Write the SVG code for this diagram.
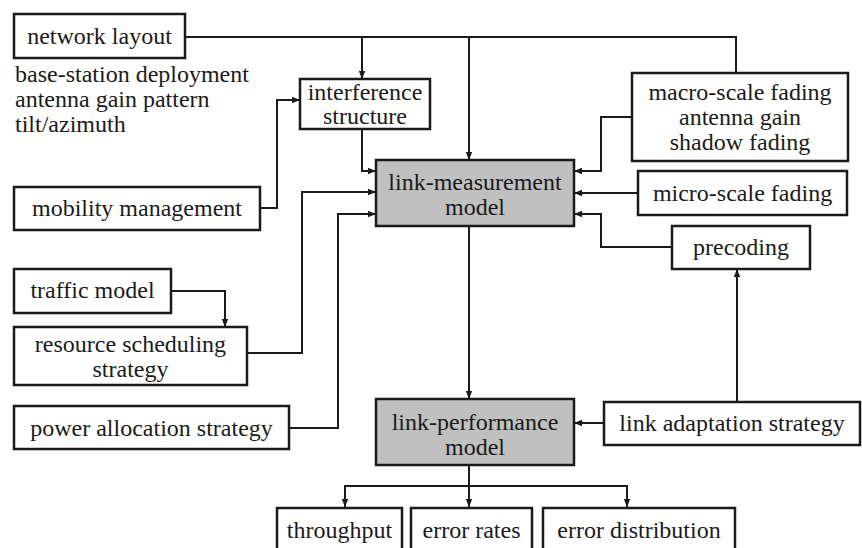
<svg xmlns="http://www.w3.org/2000/svg" width="862" height="548" viewBox="0 0 862 548">
<defs>
<marker id="arr" markerUnits="userSpaceOnUse" markerWidth="10" markerHeight="10" refX="8" refY="4" orient="auto">
<path d="M0,0.8 L8,4 L0,7.2 Z" fill="#1a1a1a"/>
</marker>
</defs>
<rect width="862" height="548" fill="#ffffff"/>
<g id="connectors" fill="none" stroke="#1a1a1a" stroke-width="2">
<path d="M185,37 H736 V73"/>
<path d="M362,37 V79" marker-end="url(#arr)"/>
<path d="M469,37 V160" marker-end="url(#arr)"/>
<path d="M362,129 V171 H376" marker-end="url(#arr)"/>
<path d="M260,208 H277 V100 H300" marker-end="url(#arr)"/>
<path d="M247,353 H302 V192 H376" marker-end="url(#arr)"/>
<path d="M289,428 H338 V214 H376" marker-end="url(#arr)"/>
<path d="M171,291 H225 V327" marker-end="url(#arr)"/>
<path d="M632,117 H601 V171 H574" marker-end="url(#arr)"/>
<path d="M638,193 H574" marker-end="url(#arr)"/>
<path d="M672,247 H601 V214 H574" marker-end="url(#arr)"/>
<path d="M737,402 V269" marker-end="url(#arr)"/>
<path d="M469,226 V399" marker-end="url(#arr)"/>
<path d="M604,423 H574" marker-end="url(#arr)"/>
<path d="M469,465 V507" marker-end="url(#arr)"/>
<path d="M345,507 V486 H627 V507" marker-end="url(#arr)"/>
<path d="M345,486 V507" marker-end="url(#arr)"/>
</g>
<g id="network-layout">
<rect x="14" y="14" width="171" height="44" fill="#ffffff" stroke="#1a1a1a" stroke-width="2.5"/>
<text x="99.5" y="44" text-anchor="middle" font-family="Liberation Serif" font-size="24" fill="#1a1a1a">network layout</text>
</g>
<g id="network-layout-notes">
<text x="15" y="82" font-family="Liberation Serif" font-size="24" fill="#1a1a1a">base-station deployment</text>
<text x="15" y="107" font-family="Liberation Serif" font-size="24" fill="#1a1a1a">antenna gain pattern</text>
<text x="15" y="132" font-family="Liberation Serif" font-size="24" fill="#1a1a1a">tilt/azimuth</text>
</g>
<g id="interference-structure">
<rect x="300" y="79" width="130" height="50" fill="#ffffff" stroke="#1a1a1a" stroke-width="2.5"/>
<text x="365" y="100" text-anchor="middle" font-family="Liberation Serif" font-size="24" fill="#1a1a1a">interference</text>
<text x="365" y="124" text-anchor="middle" font-family="Liberation Serif" font-size="24" fill="#1a1a1a">structure</text>
</g>
<g id="mobility-management">
<rect x="14" y="187" width="246" height="43" fill="#ffffff" stroke="#1a1a1a" stroke-width="2.5"/>
<text x="137" y="216" text-anchor="middle" font-family="Liberation Serif" font-size="24" fill="#1a1a1a">mobility management</text>
</g>
<g id="traffic-model">
<rect x="14" y="269" width="157" height="44" fill="#ffffff" stroke="#1a1a1a" stroke-width="2.5"/>
<text x="92.5" y="298" text-anchor="middle" font-family="Liberation Serif" font-size="24" fill="#1a1a1a">traffic model</text>
</g>
<g id="resource-scheduling">
<rect x="14" y="327" width="233" height="58" fill="#ffffff" stroke="#1a1a1a" stroke-width="2.5"/>
<text x="130.5" y="352" text-anchor="middle" font-family="Liberation Serif" font-size="24" fill="#1a1a1a">resource scheduling</text>
<text x="130.5" y="377" text-anchor="middle" font-family="Liberation Serif" font-size="24" fill="#1a1a1a">strategy</text>
</g>
<g id="power-allocation">
<rect x="14" y="406" width="275" height="43" fill="#ffffff" stroke="#1a1a1a" stroke-width="2.5"/>
<text x="151.5" y="436" text-anchor="middle" font-family="Liberation Serif" font-size="24" fill="#1a1a1a">power allocation strategy</text>
</g>
<g id="link-measurement">
<rect x="376" y="160" width="198" height="66" fill="#c0c0c0" stroke="#1a1a1a" stroke-width="2.5"/>
<text x="475" y="190" text-anchor="middle" font-family="Liberation Serif" font-size="24" fill="#1a1a1a">link-measurement</text>
<text x="475" y="215" text-anchor="middle" font-family="Liberation Serif" font-size="24" fill="#1a1a1a">model</text>
</g>
<g id="macro-scale-fading">
<rect x="632" y="73" width="216" height="88" fill="#ffffff" stroke="#1a1a1a" stroke-width="2.5"/>
<text x="740" y="100" text-anchor="middle" font-family="Liberation Serif" font-size="24" fill="#1a1a1a">macro-scale fading</text>
<text x="740" y="125" text-anchor="middle" font-family="Liberation Serif" font-size="24" fill="#1a1a1a">antenna gain</text>
<text x="740" y="150" text-anchor="middle" font-family="Liberation Serif" font-size="24" fill="#1a1a1a">shadow fading</text>
</g>
<g id="micro-scale-fading">
<rect x="638" y="171" width="209" height="44" fill="#ffffff" stroke="#1a1a1a" stroke-width="2.5"/>
<text x="742.5" y="201" text-anchor="middle" font-family="Liberation Serif" font-size="24" fill="#1a1a1a">micro-scale fading</text>
</g>
<g id="precoding">
<rect x="672" y="226" width="138" height="43" fill="#ffffff" stroke="#1a1a1a" stroke-width="2.5"/>
<text x="741" y="255" text-anchor="middle" font-family="Liberation Serif" font-size="24" fill="#1a1a1a">precoding</text>
</g>
<g id="link-performance">
<rect x="376" y="399" width="198" height="66" fill="#c0c0c0" stroke="#1a1a1a" stroke-width="2.5"/>
<text x="475" y="430" text-anchor="middle" font-family="Liberation Serif" font-size="24" fill="#1a1a1a">link-performance</text>
<text x="475" y="455" text-anchor="middle" font-family="Liberation Serif" font-size="24" fill="#1a1a1a">model</text>
</g>
<g id="link-adaptation">
<rect x="604" y="402" width="256" height="43" fill="#ffffff" stroke="#1a1a1a" stroke-width="2.5"/>
<text x="732" y="431" text-anchor="middle" font-family="Liberation Serif" font-size="24" fill="#1a1a1a">link adaptation strategy</text>
</g>
<g id="throughput">
<rect x="277" y="508" width="125" height="46" fill="#ffffff" stroke="#1a1a1a" stroke-width="2.5"/>
<text x="339.5" y="538" text-anchor="middle" font-family="Liberation Serif" font-size="24" fill="#1a1a1a">throughput</text>
</g>
<g id="error-rates">
<rect x="411" y="508" width="121" height="46" fill="#ffffff" stroke="#1a1a1a" stroke-width="2.5"/>
<text x="471.5" y="538" text-anchor="middle" font-family="Liberation Serif" font-size="24" fill="#1a1a1a">error rates</text>
</g>
<g id="error-distribution">
<rect x="543" y="508" width="192" height="46" fill="#ffffff" stroke="#1a1a1a" stroke-width="2.5"/>
<text x="639" y="538" text-anchor="middle" font-family="Liberation Serif" font-size="24" fill="#1a1a1a">error distribution</text>
</g>
</svg>
